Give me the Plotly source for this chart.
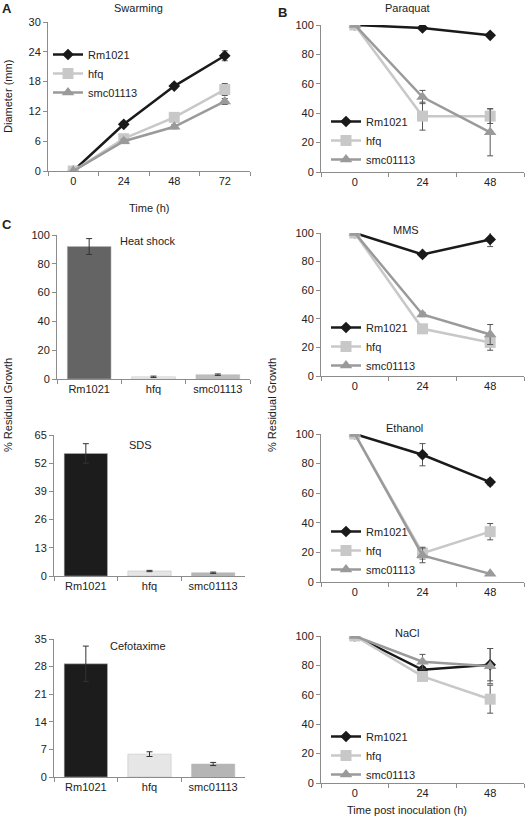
import plotly.graph_objects as go

W, H = 528, 823
FONT = "Liberation Sans, Arial, sans-serif"

strains = ["Rm1021", "hfq", "smc01113"]
line_colors = ["#1a1a1a", "#c8c8c8", "#9a9a9a"]
symbols = ["diamond", "square", "triangle-up"]
msizes = [9, 11, 11]

# Panel A: swarming
swarm_time = ["0", "24", "48", "72"]
swarm_rm = [0, 9.4, 17.1, 23.2]
swarm_rm_err = [0, 0.5, 0.5, 1.0]
swarm_hfq = [0, 6.5, 10.8, 16.4]
swarm_hfq_err = [0, 0.5, 0.5, 1.2]
swarm_smc = [0, 6.0, 8.9, 14.0]
swarm_smc_err = [0, 0.4, 0.4, 0.6]

# Stress time courses
stress_time = ["0", "24", "48"]
paraquat_rm = [100, 98, 93]
paraquat_rm_err = [0, 1, 1]
paraquat_hfq = [100, 38, 38]
paraquat_hfq_err = [0, 9.5, 5]
paraquat_smc = [100, 51, 27]
paraquat_smc_err = [0, 4.5, 16]

mms_rm = [100, 85, 95.5]
mms_rm_err = [0, 1.5, 5]
mms_hfq = [100, 33, 23.5]
mms_hfq_err = [0, 1.5, 5.5]
mms_smc = [100, 43, 29]
mms_smc_err = [0, 1.5, 7]

ethanol_rm = [100, 86, 67.5]
ethanol_rm_err = [0, 7.5, 2]
ethanol_hfq = [100, 19.5, 34]
ethanol_hfq_err = [0, 4, 5.5]
ethanol_smc = [100, 18, 5.5]
ethanol_smc_err = [0, 5, 0.5]

nacl_rm = [100, 77, 80.5]
nacl_rm_err = [0, 2, 11]
nacl_hfq = [100, 72.5, 57]
nacl_hfq_err = [0, 2, 9.5]
nacl_smc = [100, 82.5, 79.5]
nacl_smc_err = [0, 5, 12]

# Bar panels
heat_vals = [92, 1.5, 3]
heat_err = [5.5, 0.5, 0.5]
sds_vals = [56.5, 2.3, 1.5]
sds_err = [4.5, 0.3, 0.3]
cef_vals = [28.7, 5.8, 3.3]
cef_err = [4.5, 0.6, 0.4]
heat_colors = ["#646464", "#eeeeee", "#bdbdbd"]
bar_colors = ["#1c1c1c", "#e6e6e6", "#b5b5b5"]


def xdom(x0, x1):
    return [x0 / W, x1 / W]


def ydom(y0, y1):
    return [1 - y1 / H, 1 - y0 / H]


fig = go.Figure()

axis_common = dict(showline=True, linecolor="#8c8c8c", linewidth=1, ticks="outside",
                   tickcolor="#8c8c8c", ticklen=4, showgrid=False, zeroline=False,
                   automargin=False,
                   tickfont=dict(family=FONT, size=11, color="#222"))

panels = [
    # name, axis idx, x px, y px, yrange, dtick, n categories
    ("A", 1, (48, 250), (22, 171), 30, 6, 4),
    ("B", 2, (321, 524), (25, 172), 100, 20, 3),
    ("heat", 3, (57, 250), (235, 379), 100, 20, 3),
    ("sds", 4, (54, 245), (435, 576), 65, 13, 3),
    ("cef", 5, (54, 245), (639, 777), 35, 7, 3),
    ("mms", 6, (321, 524), (233, 376), 100, 20, 3),
    ("eth", 7, (321, 524), (434, 582), 100, 20, 3),
    ("nacl", 8, (321, 524), (636, 783), 100, 20, 3),
]

layout_axes = {}
for name, i, xp, yp, ymax, dt, ncat in panels:
    sx = "" if i == 1 else str(i)
    layout_axes["xaxis" + sx] = dict(domain=xdom(*xp), anchor="y" + sx, type="category",
                                      range=[-0.5, ncat - 0.5],
                                      tickson="boundaries", **axis_common)
    layout_axes["yaxis" + sx] = dict(domain=ydom(*yp), anchor="x" + sx, range=[0, ymax],
                                      dtick=dt, tick0=0, **axis_common)


def add_lines(i, xs, series, legend_name):
    sx = "" if i == 1 else str(i)
    for k, (vals, errs) in enumerate(series):
        fig.add_trace(go.Scatter(
            x=xs, y=vals, name=strains[k], mode="lines+markers",
            line=dict(color=line_colors[k], width=2.5),
            marker=dict(symbol=symbols[k], size=msizes[k], color=line_colors[k]),
            error_y=dict(type="data", array=errs, visible=True, color="#555555",
                         thickness=1, width=3),
            xaxis="x" + sx, yaxis="y" + sx, legend=legend_name))


def add_bars(i, vals, errs, colors):
    sx = "" if i == 1 else str(i)
    fig.add_trace(go.Bar(
        x=strains, y=vals, marker=dict(color=colors, line=dict(color="#bbbbbb", width=0.5)),
        error_y=dict(type="data", array=errs, visible=True, color="#333333",
                     thickness=1, width=3),
        showlegend=False, xaxis="x" + sx, yaxis="y" + sx))


add_lines(1, swarm_time, [(swarm_rm, swarm_rm_err), (swarm_hfq, swarm_hfq_err),
                          (swarm_smc, swarm_smc_err)], "legend")
add_lines(2, stress_time, [(paraquat_rm, paraquat_rm_err), (paraquat_hfq, paraquat_hfq_err),
                           (paraquat_smc, paraquat_smc_err)], "legend2")
add_bars(3, heat_vals, heat_err, heat_colors)
add_bars(4, sds_vals, sds_err, bar_colors)
add_bars(5, cef_vals, cef_err, bar_colors)
add_lines(6, stress_time, [(mms_rm, mms_rm_err), (mms_hfq, mms_hfq_err),
                           (mms_smc, mms_smc_err)], "legend3")
add_lines(7, stress_time, [(ethanol_rm, ethanol_rm_err), (ethanol_hfq, ethanol_hfq_err),
                           (ethanol_smc, ethanol_smc_err)], "legend4")
add_lines(8, stress_time, [(nacl_rm, nacl_rm_err), (nacl_hfq, nacl_hfq_err),
                           (nacl_smc, nacl_smc_err)], "legend5")


def legend_at(xpx, ypx):
    return dict(x=xpx / W, y=1 - ypx / H, xanchor="left", yanchor="top",
                bgcolor="rgba(0,0,0,0)", font=dict(family=FONT, size=11, color="#222"),
                tracegroupgap=0, itemwidth=30)


legends = dict(
    legend=legend_at(48, 40),
    legend2=legend_at(326, 107),
    legend3=legend_at(326, 313),
    legend4=legend_at(326, 517),
    legend5=legend_at(326, 722),
)

annotations = []


def text(x, y, s, size=11, angle=0):
    annotations.append(dict(x=x / W, y=1 - y / H, xref="paper", yref="paper", text=s,
                            showarrow=False, textangle=angle,
                            font=dict(family=FONT, size=size, color="#222"),
                            xanchor="center", yanchor="middle"))


text(7, 9, "<b>A</b>", 13)
text(282, 12, "<b>B</b>", 13)
text(7, 224, "<b>C</b>", 13)
text(138, 8, "Swarming")
text(407, 8, "Paraquat")
text(148, 241, "Heat shock")
text(140, 445, "SDS")
text(138, 646, "Cefotaxime")
text(406, 230, "MMS")
text(404, 428, "Ethanol")
text(407, 633, "NaCl")
text(149, 208, "Time (h)")
text(407, 810, "Time post inoculation (h)")
text(8, 97, "Diameter (mm)", angle=-90)
text(8, 405, "% Residual Growth", angle=-90)
text(272, 405, "% Residual Growth", angle=-90)

fig.update_layout(width=W, height=H, margin=dict(l=0, r=0, t=0, b=0),
                  plot_bgcolor="white", paper_bgcolor="white", bargap=0.32,
                  annotations=annotations, **legends, **layout_axes)

fig.write_html("out.html", config={"displayModeBar": False},
               post_script="document.body.style.margin='0';document.body.style.overflow='hidden';")
